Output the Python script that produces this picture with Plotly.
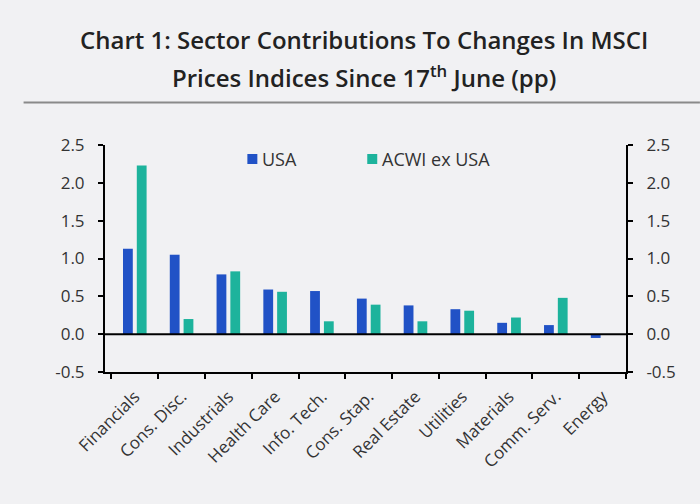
import plotly.graph_objects as go

categories = ["Financials", "Cons. Disc.", "Industrials", "Health Care", "Info. Tech.",
              "Cons. Stap.", "Real Estate", "Utilities", "Materials", "Comm. Serv.", "Energy"]
usa = [1.13, 1.05, 0.79, 0.59, 0.57, 0.47, 0.38, 0.33, 0.15, 0.12, -0.05]
acwi_ex_usa = [2.23, 0.20, 0.83, 0.56, 0.17, 0.39, 0.17, 0.31, 0.22, 0.48, 0.0]
series_names = ["USA", "ACWI ex USA"]
series_colors = ["#2152c6", "#1db39c"]
y_ticks = [-0.5, 0.0, 0.5, 1.0, 1.5, 2.0, 2.5]
y_tick_text = ["-0.5", "0.0", "0.5", "1.0", "1.5", "2.0", "2.5"]
title_lines = ["Chart 1: Sector Contributions To Changes In MSCI",
               "Prices Indices Since 17<sup>th</sup> June (pp)"]

BG = "#f1f1f3"
FONT = "Open Sans"
W, H = 700, 504
L, R, T, B = 104.5, 74, 145, 132
pw, ph = W - L - R, H - T - B

def px_to_paper_x(px):
    return (px - L) / pw

def px_to_paper_y(py):
    return (H - B - py) / ph

fig = go.Figure()
for name, vals, col in zip(series_names, [usa, acwi_ex_usa], series_colors):
    fig.add_trace(go.Bar(x=categories, y=vals, name=name, marker_color=col,
                         marker_line_width=0, showlegend=False))
# invisible trace on right axis
fig.add_trace(go.Scatter(x=[categories[0]], y=[0], yaxis="y2", mode="markers",
                         marker=dict(opacity=0), showlegend=False, hoverinfo="skip"))

axis_common = dict(range=[-0.5, 2.5], tickvals=y_ticks, ticktext=y_tick_text,
                   showgrid=False, showline=True, linecolor="#000", linewidth=2,
                   ticks="outside", ticklen=5, tickwidth=2, tickcolor="#000",
                   tickfont=dict(family=FONT, size=17, color="#333"),
                   zeroline=False, fixedrange=True)

fig.update_layout(
    width=W, height=H,
    margin=dict(l=L, r=R, t=T, b=B, pad=0),
    paper_bgcolor=BG, plot_bgcolor=BG,
    barmode="group", bargap=0.41, bargroupgap=0.29,
    showlegend=False,
    xaxis=dict(showgrid=False, showline=True, linecolor="#000", linewidth=2,
               ticks="outside", ticklen=5, tickwidth=2, tickcolor="#000",
               tickson="boundaries", tickangle=-45, ticklabelstandoff=6,
               tickfont=dict(family=FONT, size=17, color="#333")),
    yaxis=dict(side="left", ticklabelstandoff=10, **axis_common),
    yaxis2=dict(side="right", overlaying="y", ticklabelstandoff=10, **axis_common),
)

# zero line
fig.add_shape(type="line", xref="paper", yref="y", x0=0, x1=1, y0=0, y1=0,
              line=dict(color="#000", width=2))

# title (two lines)
for line, ty in zip(title_lines, [40, 77]):
    fig.add_annotation(text=line, xref="paper", yref="paper",
                       x=px_to_paper_x(364), y=px_to_paper_y(ty),
                       xanchor="center", yanchor="middle", showarrow=False,
                       font=dict(family=FONT, size=24, color="#222", weight=600))
# rule under title
fig.add_shape(type="line", xref="paper", yref="paper",
              x0=px_to_paper_x(23), x1=px_to_paper_x(700),
              y0=px_to_paper_y(102.5), y1=px_to_paper_y(102.5),
              line=dict(color="#8a8a8a", width=2))

# legend (manual)
legend_x = [247, 367]
for name, col, lx in zip(series_names, series_colors, legend_x):
    fig.add_shape(type="rect", xref="paper", yref="paper",
                  x0=px_to_paper_x(lx), x1=px_to_paper_x(lx + 10),
                  y0=px_to_paper_y(154), y1=px_to_paper_y(164),
                  fillcolor=col, line_width=0)
    fig.add_annotation(text=name, xref="paper", yref="paper",
                       x=px_to_paper_x(lx + 13), y=px_to_paper_y(159),
                       xanchor="left", yanchor="middle", showarrow=False,
                       font=dict(family=FONT, size=18, color="#333"))

fig.write_html("out.html")
